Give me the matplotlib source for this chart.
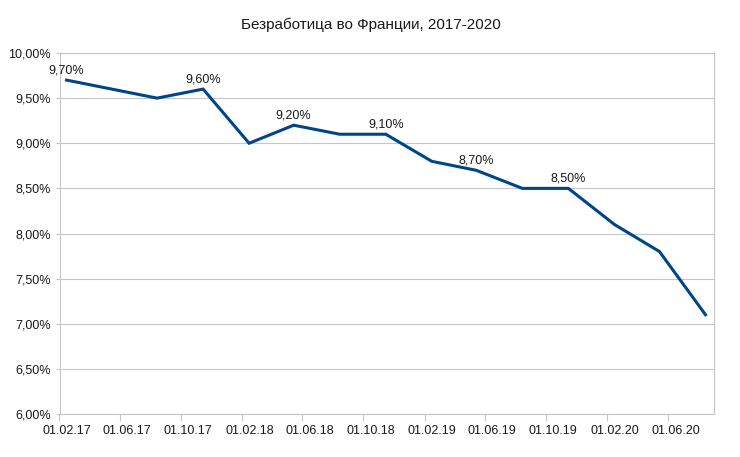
import matplotlib
matplotlib.use("Agg")
import matplotlib.pyplot as plt
import matplotlib.transforms as mtransforms
from matplotlib.ticker import FuncFormatter, MultipleLocator
import datetime as dt

plt.rcParams['font.family'] = ['Liberation Sans', 'DejaVu Sans']

dates = ["15.02.17", "15.08.17", "15.11.17", "15.02.18", "15.05.18", "15.08.18",
         "15.11.18", "15.02.19", "15.05.19", "15.08.19", "15.11.19", "15.02.20",
         "15.05.20", "15.08.20"]
rates = [9.7, 9.5, 9.6, 9.0, 9.2, 9.1, 9.1, 8.8, 8.7, 8.5, 8.5, 8.1, 7.8, 7.1]
labeled = [0, 2, 4, 6, 8, 10]
tick_dates = ["01.02.17", "01.06.17", "01.10.17", "01.02.18", "01.06.18", "01.10.18",
              "01.02.19", "01.06.19", "01.10.19", "01.02.20", "01.06.20"]
title = "Безработица во Франции, 2017-2020"

def parse(s):
    return dt.datetime.strptime(s, "%d.%m.%y")

x = [parse(d) for d in dates]
ticks = [parse(d) for d in tick_dates]

fig = plt.figure(figsize=(7.4, 4.57), dpi=100)
ax = fig.add_axes([59.5/740, 1-414/457, (714-59.5)/740, (414-53)/457])

grid_c = "#c6c6c6"
ax.plot(x, rates, color="#004586", lw=2.2, solid_joinstyle="miter", zorder=3)
for i in labeled:
    ax.annotate(f"{rates[i]:.2f}%".replace(".", ","), (x[i], rates[i]),
                xytext=(0, 2.5), textcoords="offset points",
                ha="center", va="bottom", fontsize=9, color="#1a1a1a")

ax.set_xlim(parse("01.02.17"), dt.datetime(2020, 9, 1))
ax.set_ylim(6.0, 10.0)
ax.yaxis.set_major_locator(MultipleLocator(0.5))
ax.yaxis.set_major_formatter(FuncFormatter(lambda v, p: f"{v:.2f}%".replace(".", ",")))
ax.set_xticks(ticks)
ax.set_xticklabels(tick_dates)
ax.grid(axis="y", color=grid_c, lw=0.8)
ax.set_axisbelow(True)
for s in ax.spines.values():
    s.set_color(grid_c)
    s.set_linewidth(0.8)
ax.tick_params(axis="both", colors=grid_c, labelcolor="#1a1a1a", labelsize=9, width=0.8)
ax.tick_params(axis="x", length=5, pad=3)
ax.tick_params(axis="y", length=3, pad=3)
offset = mtransforms.ScaledTranslation(7.5/100, 0, fig.dpi_scale_trans)
for lab in ax.get_xticklabels():
    lab.set_transform(lab.get_transform() + offset)

fig.text(371/740, 1-25/457, title, ha="center", va="center", fontsize=11, color="#1a1a1a")
fig.savefig("out.png", dpi=100)
